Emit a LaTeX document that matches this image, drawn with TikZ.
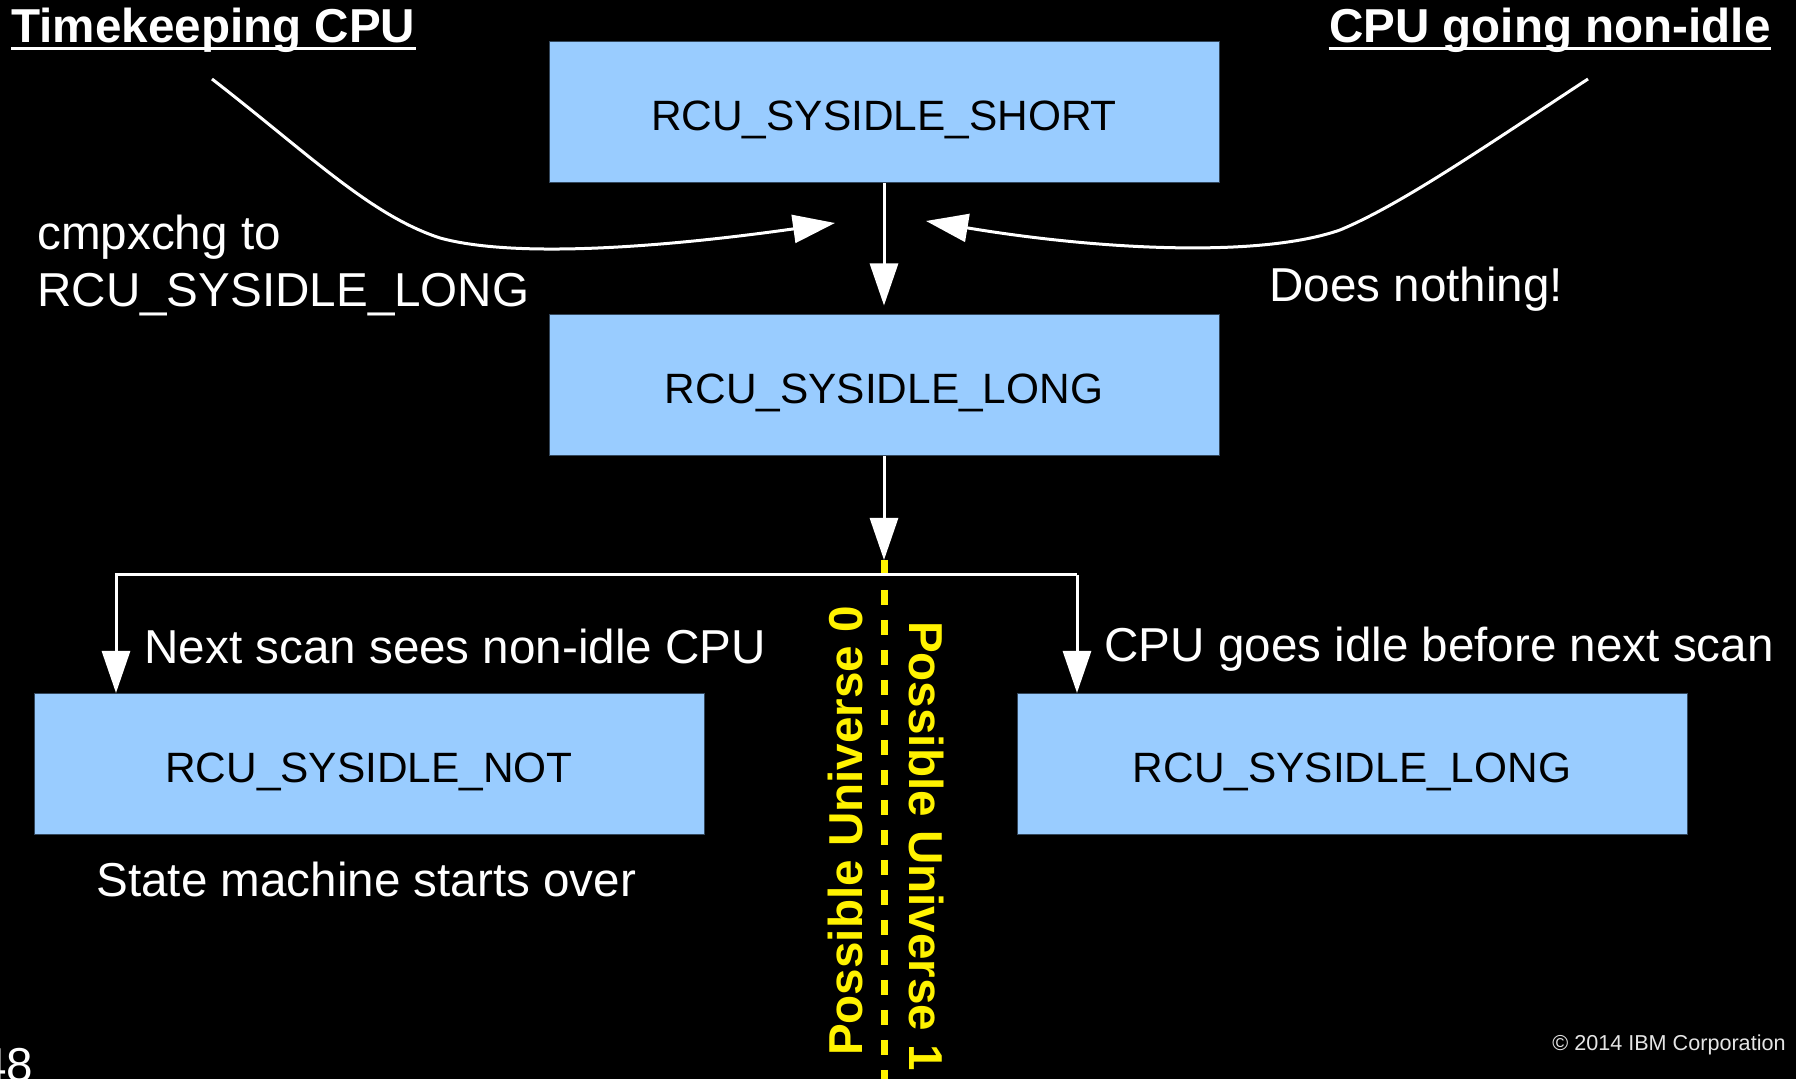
\documentclass[tikz,border=0pt]{standalone}
\usepackage{fontspec}
\setmainfont{Liberation Sans}
\usetikzlibrary{arrows.meta}

\definecolor{skyblue}{HTML}{99CCFF}
\definecolor{boxedge}{HTML}{33475C}

\begin{document}
\begin{tikzpicture}[%
      x=0.5pt, y=-0.5pt,
      every node/.style={inner sep=0pt, text=white,
                         font={\fontsize{23.8}{28.5}\selectfont}},
      state/.style={fill=skyblue, draw=boxedge, line width=0.5pt,
                    minimum width=335pt, minimum height=70.5pt, text=black,
                    text height=18.5pt, text depth=0pt,
                    font={\fontsize{21.2}{25}\selectfont}},
      head/.style={font={\fontsize{23.8}{28.5}\selectfont\bfseries}},
      universe/.style={text=yellow, font={\fontsize{23.8}{28.5}\selectfont\bfseries}},
      flow/.style={draw=white, line width=1.5pt,
                   -{Triangle[length=21pt,width=14pt]}},
      rule/.style={draw=white, line width=1.5pt}
    ]
    \useasboundingbox[fill=black] (0,0) rectangle (1796,1079);

    \node [state] (short) at (884,112.5) {RCU\_SYSIDLE\_SHORT};
    \node [state] (long)  at (884,385.5) {RCU\_SYSIDLE\_LONG};
    \node [state] (not)   at (369,764)   {RCU\_SYSIDLE\_NOT};
    \node [state] (long2) at (1352,764)  {RCU\_SYSIDLE\_LONG};

    \node [head, anchor=base west] (tk) at (11,43)   {Timekeeping CPU};
    \node [head, anchor=base east] (ni) at (1771,43) {CPU going non-idle};
    \draw [rule] ([yshift=-2.8pt]tk.base west) -- ([yshift=-2.8pt]tk.base east);
    \draw [rule] ([yshift=-2.8pt]ni.base west) -- ([yshift=-2.8pt]ni.base east);

    \node [anchor=base west] (cmp)     at (37,250)   {cmpxchg to};
    \node [anchor=base west] (cmplong) at (37,307)   {RCU\_SYSIDLE\_LONG};
    \node [anchor=base west] (nothing) at (1269,302) {Does nothing!};
    \node [anchor=base west] (seen)    at (144,664)  {Next scan sees non-idle CPU};
    \node [anchor=base west] (idle)    at (1104,662) {CPU goes idle before next scan};
    \node [anchor=base west] (over)    at (96,897)   {State machine starts over};
    \node [anchor=base west] (page)    at (-20,1081) {48};
    \node [anchor=base east, text=white!90!black,
           font={\fontsize{10.8}{13}\selectfont}] (ibm) at (1786,1051)
      {\textcopyright{} 2014 IBM Corporation};

    \node [universe, rotate=90, anchor=base]  (u0) at (862,831) {Possible Universe 0};
    \node [universe, rotate=-90, anchor=base] (u1) at (909,846) {Possible Universe 1};

    \coordinate (split)   at (884,560);
    \coordinate (bottom)  at (884,1079);
    \coordinate (forkL)   at (116,575);
    \coordinate (forkR)   at (1077,575);
    \coordinate (tkstart) at (212,79);
    \coordinate (tkend)   at (835,223);
    \coordinate (nistart) at (1588,79);
    \coordinate (niend)   at (926,221);

    \draw [yellow, line width=3.5pt, dash pattern=on 7.75pt off 7.25pt] (split) -- (bottom);

    \draw [flow, shorten >=4.5pt] (short) -- (long);
    \draw [flow] (long) -- (split);
    \draw [flow] (forkR) -- (forkL) -- (forkL |- not.north);
    \draw [flow] (forkR) -- (forkR |- long2.north);

    \draw [flow] (tkstart) .. controls (310,155) and (370,215) .. (440,238)
                           .. controls (520,260) and (680,245) .. (tkend);
    \draw [flow] (nistart) .. controls (1480,150) and (1400,205) .. (1340,230)
                           .. controls (1260,258) and (1100,250) .. (niend);
\end{tikzpicture}
\end{document}
